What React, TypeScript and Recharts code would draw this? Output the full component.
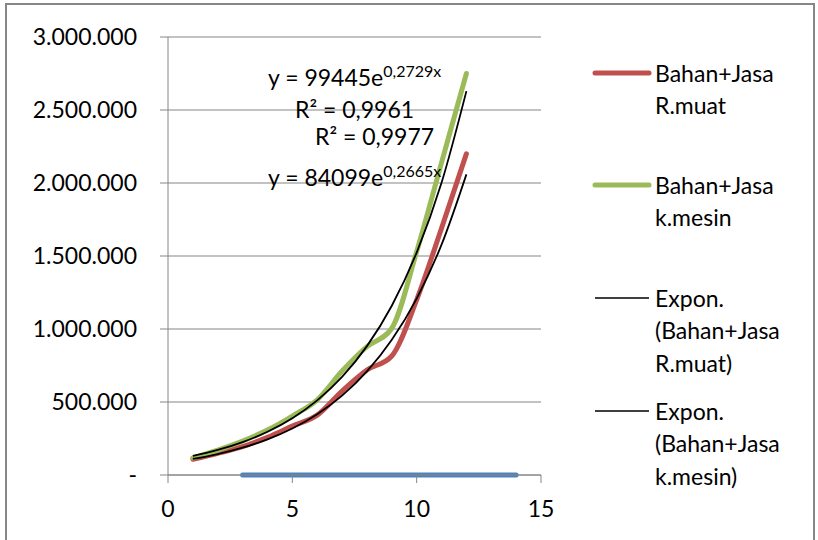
import { ComposedChart, Line, XAxis, YAxis, CartesianGrid } from "recharts";

// x = 1..12 (series), blue baseline runs 3..14
const xValues = [1, 2, 3, 4, 5, 6, 7, 8, 9, 10, 11, 12, 13, 14];
const rMuat = [108000, 149000, 194000, 258000, 335000, 410000, 575000, 719000, 815000, 1200000, 1690000, 2200000];
const kMesin = [118000, 171000, 233000, 308000, 404000, 515000, 712000, 879000, 1005000, 1530000, 2140000, 2750000];
// exponential trend values (as given by the chart's equations)
const trendRMuat = [109783, 143311, 187078, 244212, 318794, 416154, 543248, 709155, 925731, 1208450, 1577510, 2059280];
const trendKMesin = [130649, 171644, 225503, 296261, 389224, 511355, 671808, 882610, 1159557, 1523406, 2001425, 2629445];
const baseline = [null, null, 0, 0, 0, 0, 0, 0, 0, 0, 0, 0, 0, 0];

const yTicks = [0, 500000, 1000000, 1500000, 2000000, 2500000, 3000000];
const xTicks = [0, 5, 10, 15];

const seriesNames = [
  "Bahan+Jasa R.muat",
  "Bahan+Jasa k.mesin",
  "Expon. (Bahan+Jasa R.muat)",
  "Expon. (Bahan+Jasa k.mesin)",
];

const rows = xValues.map((x, i) => ({
  x,
  rMuat: rMuat[i],
  kMesin: kMesin[i],
  trendR: trendRMuat[i],
  trendK: trendKMesin[i],
  base: baseline[i],
}));

const FONT = "Lato, 'Open Sans', sans-serif";
const GRID = "#868686";

const fmtY = (v: number) =>
  v === 0 ? "-" : String(v).replace(/\B(?=(\d{3})+(?!\d))/g, ".");

const legendItems = [
  { color: "#C0504D", width: 5, y: 73 },
  { color: "#9BBB59", width: 5, y: 185 },
  { color: "#000000", width: 1.5, y: 298 },
  { color: "#000000", width: 1.5, y: 411 },
];

export default function App() {
  return (
    <div
      style={{
        position: "absolute",
        left: 0,
        top: 0,
        width: 818,
        height: 540,
        background: "#fff",
        overflow: "hidden",
        fontFamily: FONT,
      }}
    >
      {/* chart frame */}
      <div
        style={{
          position: "absolute",
          left: 5,
          top: 3,
          width: 806,
          height: 560,
          border: `2px solid ${GRID}`,
        }}
      />
      <div style={{ position: "absolute", left: 0, top: 0 }}>
        <ComposedChart
          width={818}
          height={540}
          data={rows}
          margin={{ top: 37, right: 277, bottom: 0, left: 0 }}
        >
          <CartesianGrid vertical={false} stroke={GRID} strokeWidth={1.2} />
          <XAxis
            type="number"
            dataKey="x"
            domain={[0, 15]}
            ticks={xTicks}
            height={65}
            stroke={GRID}
            tickSize={8}
            tickMargin={18}
            tick={{ fill: "#000", fontSize: 23, fontFamily: FONT }}
          />
          <YAxis
            type="number"
            domain={[0, 3000000]}
            ticks={yTicks}
            width={168}
            stroke={GRID}
            tickSize={8}
            tickMargin={23}
            tickFormatter={fmtY}
            tick={{ fill: "#000", fontSize: 23, fontFamily: FONT }}
          />
          <Line
            dataKey="base"
            stroke="#4F81BD"
            strokeWidth={5}
            strokeLinecap="round"
            dot={false}
            activeDot={false}
            legendType="none"
            isAnimationActive={false}
          />
          <Line
            type="monotone"
            dataKey="rMuat"
            name={seriesNames[0]}
            stroke="#C0504D"
            strokeWidth={5}
            strokeLinecap="round"
            dot={false}
            activeDot={false}
            isAnimationActive={false}
          />
          <Line
            type="monotone"
            dataKey="kMesin"
            name={seriesNames[1]}
            stroke="#9BBB59"
            strokeWidth={5}
            strokeLinecap="round"
            dot={false}
            activeDot={false}
            isAnimationActive={false}
          />
          <Line
            type="monotone"
            dataKey="trendR"
            name={seriesNames[2]}
            stroke="#000"
            strokeWidth={1.8}
            dot={false}
            activeDot={false}
            isAnimationActive={false}
          />
          <Line
            type="monotone"
            dataKey="trendK"
            name={seriesNames[3]}
            stroke="#000"
            strokeWidth={1.8}
            dot={false}
            activeDot={false}
            isAnimationActive={false}
          />
        </ComposedChart>
      </div>

      {/* trendline equations */}
      <svg
        width={818}
        height={540}
        style={{ position: "absolute", left: 0, top: 0, pointerEvents: "none" }}
        fontFamily={FONT}
        fill="#000"
      >
        <text x={268} y={77} fontSize={23} dominantBaseline="central">
          y = 99445e<tspan dy={-7} fontSize={16}>0,2729x</tspan>
        </text>
        <text x={295} y={109} fontSize={23} dominantBaseline="central">
          R² = 0,9961
        </text>
        <text x={315} y={136} fontSize={23} dominantBaseline="central">
          R² = 0,9977
        </text>
        <text x={268} y={177} fontSize={23} dominantBaseline="central">
          y = 84099e<tspan dy={-7} fontSize={16}>0,2665x</tspan>
        </text>
        {legendItems.map((it, i) => (
          <line
            key={i}
            x1={595}
            x2={649}
            y1={it.y}
            y2={it.y}
            stroke={it.color}
            strokeWidth={it.width}
            strokeLinecap={it.width > 2 ? "round" : "butt"}
          />
        ))}
      </svg>

      {/* legend text */}
      {legendItems.map((it, i) => (
        <div
          key={i}
          style={{
            position: "absolute",
            left: 655,
            top: it.y - 16.5,
            width: 145,
            fontSize: 23,
            lineHeight: "32.8px",
            color: "#000",
          }}
        >
          {seriesNames[i]}
        </div>
      ))}
    </div>
  );
}
